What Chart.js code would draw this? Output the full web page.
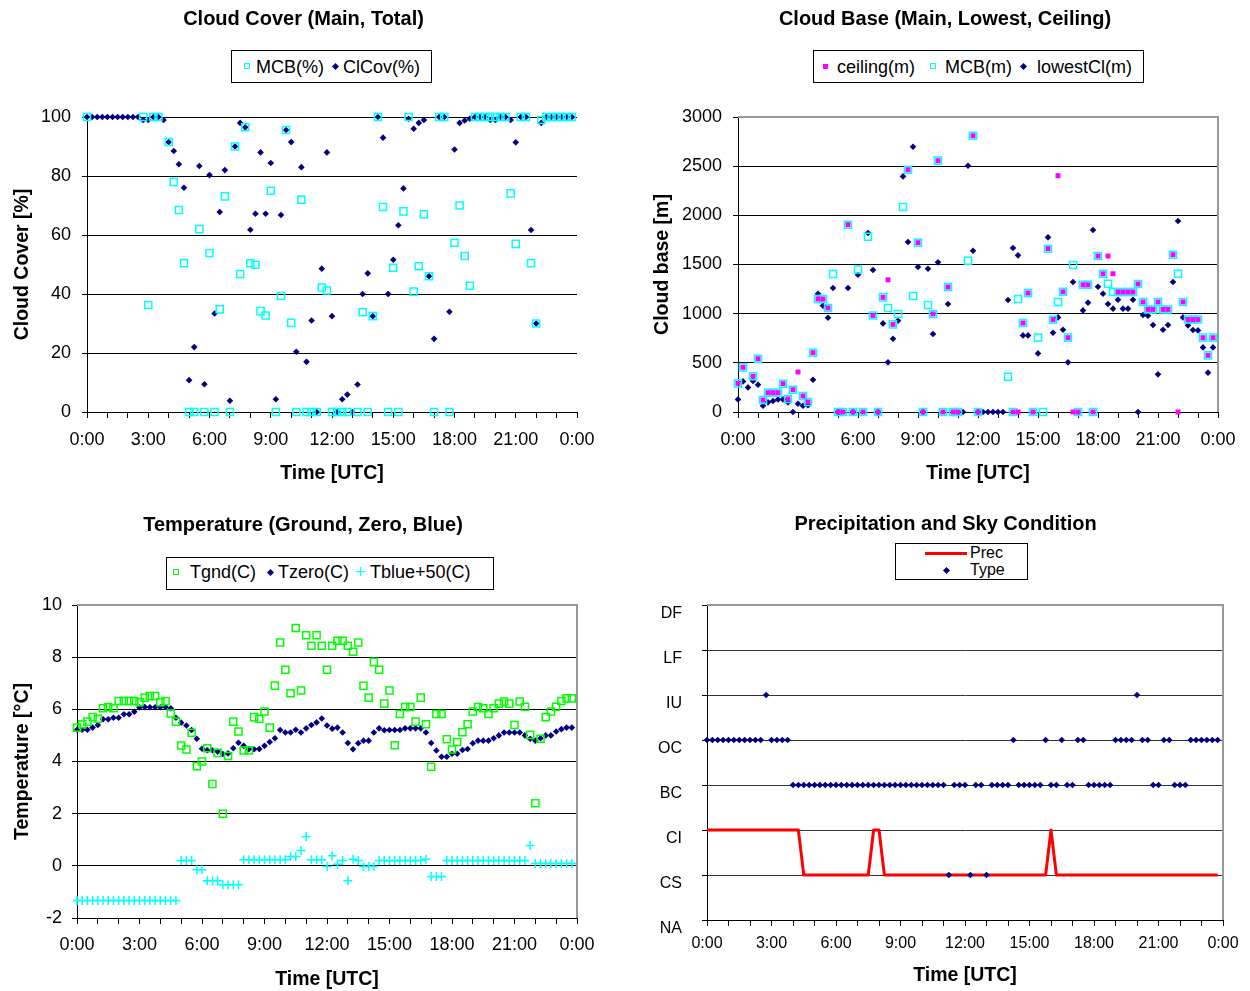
<!DOCTYPE html>
<html>
<head>
<meta charset="utf-8">
<script src="https://cdn.jsdelivr.net/npm/chart.js@4.4.0/dist/chart.umd.min.js"></script>
<style>
  body { margin: 0; background: #fff; font-family: "Liberation Sans", Arial, sans-serif; color: #000; }
  #page { position: relative; width: 1250px; height: 991px; overflow: hidden; }
  canvas { position: absolute; }
  .title { position: absolute; font-weight: bold; font-size: 20px; line-height: 24px; text-align: center; white-space: nowrap; }
  .lg { position: absolute; border: 1px solid #000; background: #fff; box-sizing: border-box; }
  .lg span { position: absolute; }
  .lt { font-size: 18px; line-height: 20px; white-space: nowrap; }
  .lt16 { font-size: 16px; line-height: 16px; white-space: nowrap; }
  .sq { width: 4px; height: 4px; border: 1.5px solid; }
  .fill { width: 5px; height: 5px; }
  .dia { width: 5px; height: 5px; background: #000080; transform: rotate(45deg); }
</style>
</head>
<body>
<div id="page">
  <canvas id="cloudCoverChart" width="625" height="495" style="left:0;top:0"></canvas>
  <canvas id="cloudBaseChart" width="625" height="495" style="left:625px;top:0"></canvas>
  <canvas id="temperatureChart" width="625" height="496" style="left:0;top:495px"></canvas>
  <canvas id="skyChart" width="625" height="496" style="left:625px;top:495px"></canvas>

  <div class="title" style="left:0;top:6px;width:607px">Cloud Cover (Main, Total)</div>
  <div class="title" style="left:625px;top:6px;width:640px">Cloud Base (Main, Lowest, Ceiling)</div>
  <div class="title" style="left:0;top:512px;width:606px">Temperature (Ground, Zero, Blue)</div>
  <div class="title" style="left:625px;top:511px;width:641px">Precipitation and Sky Condition</div>

  <div class="lg" style="left:231px;top:50px;width:201px;height:33px">
    <span class="sq" style="left:12px;top:12px;border-color:#00ffff"></span>
    <span class="lt" style="left:24px;top:6px">MCB(%)</span>
    <span class="dia" style="left:101px;top:13px"></span>
    <span class="lt" style="left:111px;top:6px">ClCov(%)</span>
  </div>

  <div class="lg" style="left:813px;top:50px;width:331px;height:33px">
    <span class="fill" style="left:8.5px;top:13px;background:#ff00ff"></span>
    <span class="lt" style="left:23px;top:6px">ceiling(m)</span>
    <span class="sq" style="left:115.5px;top:12px;border-color:#00ffff"></span>
    <span class="lt" style="left:131px;top:6px">MCB(m)</span>
    <span class="dia" style="left:207px;top:13px"></span>
    <span class="lt" style="left:223px;top:6px">lowestCl(m)</span>
  </div>

  <div class="lg" style="left:166px;top:557px;width:328px;height:33px">
    <span class="sq" style="left:6px;top:11px;border-color:#00ff00"></span>
    <span class="lt" style="left:23px;top:4px">Tgnd(C)</span>
    <span class="dia" style="left:101px;top:12px"></span>
    <span class="lt" style="left:111px;top:4px">Tzero(C)</span>
    <span class="lt" style="left:188px;top:4px;color:#00ffff">+</span>
    <span class="lt" style="left:203px;top:4px">Tblue+50(C)</span>
  </div>

  <div class="lg" style="left:895px;top:543px;width:133px;height:37px">
    <span style="left:29px;top:8px;width:42px;height:3px;background:#ff0000"></span>
    <span class="lt16" style="left:74px;top:1px">Prec</span>
    <span class="dia" style="left:47.5px;top:23.5px"></span>
    <span class="lt16" style="left:74px;top:18px">Type</span>
  </div>
</div>

<script>
// Samples are every 15 minutes (hours 0 .. 23.75)
const sampleHours = Array.from({ length: 96 }, (_, i) => i / 4);

// Cloud cover, ClCov(%), one value per sample
const cloudCoverPct = [
  100, 100, 100, 100, 100, 100, 100, 100, 100, 100, 100, 99, 99, 100, 100, 99,
  91.5, 88.5, 84, 76, 10.8, 22, 83.4, 9.4, 80.3, 33.4, 67.8, 82, 3.8, 90, 98, 96.5,
  61.8, 67.2, 88, 67.2, 84.4, 4.3, 66.8, 95.6, 91.5, 20.4, 83, 17, 31, 0, 48.6, 88,
  32.5, 0, 4.3, 5.9, 0, 9.3, 40, 47, 32.5, 100, 93, 40, 51.6, 63.3, 75.8, 99.4,
  96, 98, 99, 46, 24.8, 100, 100, 34, 89, 98, 98.8, 99.4, 100, 100, 100, 99,
  99, 100, 100, 99, 91.4, 100, 100, 61.7, 30, 98, 100, 100, 100, 100, 100, 100
];

// MCB(%) as [hour, value]
const mcbPct = [
  [0, 100], [2.75, 100], [3, 36.3], [3.25, 100], [3.5, 100], [4, 91.5], [4.25, 78], [4.5, 68.5],
  [4.75, 50.4], [5, 0], [5.25, 0], [5.5, 62], [5.75, 0], [6, 53.9], [6.25, 0], [6.5, 34.8],
  [6.75, 73.1], [7, 0], [7.25, 90], [7.5, 46.8], [7.75, 96.5], [8, 50.4], [8.25, 49.9], [8.5, 34.2],
  [8.75, 32.7], [9, 75], [9.25, 0], [9.5, 39.3], [9.75, 95.6], [10, 30.2], [10.25, 0], [10.5, 72],
  [10.75, 0], [11, 0], [11.25, 0], [11.5, 42.2], [11.75, 41.2], [12, 0], [12.25, 0], [12.5, 0],
  [12.75, 0], [13.25, 0], [13.5, 33.8], [13.75, 0], [14, 32.5], [14.25, 100], [14.5, 69.5], [14.75, 0],
  [15, 48.9], [15.25, 0], [15.5, 68], [15.75, 100], [16, 40.8], [16.25, 49.4], [16.5, 67], [16.75, 46],
  [17, 0], [17.25, 100], [17.5, 100], [17.75, 0], [18, 57.4], [18.25, 70], [18.5, 52.9], [18.75, 42.8],
  [19, 100], [19.25, 100], [19.5, 100], [19.75, 100], [20, 100], [20.25, 100], [20.5, 100], [20.75, 74.1],
  [21, 57], [21.25, 100], [21.5, 100], [21.75, 50.4], [22, 30], [22.25, 99], [22.5, 100], [22.75, 100],
  [23, 100], [23.25, 100], [23.5, 100], [23.75, 100]
];

// Cloud base series in metres, [hour, value]
const ceilingM = [
  [0, 291], [0.25, 454], [0.75, 363], [1, 542], [1.25, 122], [1.5, 196], [1.75, 196], [2, 196],
  [2.25, 288], [2.5, 133], [2.75, 227], [3, 407], [3.25, 163], [3.5, 102], [3.75, 603], [4, 1149],
  [4.25, 1149], [4.5, 1058], [5, 0], [5.25, 0], [5.5, 1905], [5.75, 0], [6.25, 0], [6.75, 982],
  [7, 0], [7.25, 1166], [7.5, 1345], [7.75, 891], [8.5, 2464], [9, 1722], [9.25, 0], [9.75, 997],
  [10, 2556], [10.25, 0], [10.5, 1271], [10.75, 0], [11, 0], [11.75, 2810], [12, 0], [13.75, 0],
  [14, 0], [14.25, 905], [14.5, 1210], [14.75, 0], [15.5, 1661], [15.75, 939], [16, 2403], [16.25, 1223],
  [16.5, 756], [16.75, 0], [17, 0], [17.25, 1294], [17.5, 1294], [17.75, 0], [18, 1586], [18.25, 1406],
  [18.5, 1586], [18.75, 1406], [19, 1220], [19.25, 1220], [19.5, 1220], [19.75, 1220], [20, 1302], [20.25, 1119],
  [20.5, 1043], [20.75, 1043], [21, 1119], [21.25, 1043], [21.5, 1043], [21.75, 1600], [22, 0], [22.25, 1119],
  [22.5, 940], [22.75, 940], [23, 940], [23.25, 756], [23.5, 576], [23.75, 756]
];
const mcbM = [
  [0, 291], [0.25, 454], [0.75, 363], [1, 542], [1.25, 122], [1.5, 196], [1.75, 196], [2, 196],
  [2.25, 288], [2.5, 133], [2.75, 227], [3.25, 163], [3.5, 102], [3.75, 603], [4, 1149], [4.25, 1149],
  [4.5, 1058], [4.75, 1403], [5, 0], [5.25, 0], [5.5, 1905], [5.75, 0], [6, 1450], [6.25, 0],
  [6.5, 1783], [6.75, 982], [7, 0], [7.25, 1166], [7.5, 1058], [7.75, 891], [8, 997], [8.25, 2085],
  [8.5, 2464], [8.75, 1180], [9, 1722], [9.25, 0], [9.5, 1088], [9.75, 997], [10, 2556], [10.25, 0],
  [10.5, 1271], [10.75, 0], [11, 0], [11.5, 1539], [11.75, 2810], [12, 0], [13.5, 359], [13.75, 0],
  [14, 1149], [14.25, 905], [14.5, 1210], [14.75, 0], [15, 756], [15.25, 0], [15.5, 1661], [15.75, 939],
  [16, 1119], [16.25, 1223], [16.5, 756], [16.75, 1495], [17, 0], [17.25, 1294], [17.5, 1294], [17.75, 0],
  [18, 1586], [18.25, 1406], [18.5, 1305], [18.75, 1220], [19, 1220], [19.25, 1220], [19.5, 1220], [19.75, 1220],
  [20, 1302], [20.25, 1119], [20.5, 1043], [20.75, 1043], [21, 1119], [21.25, 1043], [21.5, 1043], [21.75, 1600],
  [22, 1406], [22.25, 1119], [22.5, 940], [22.75, 940], [23, 940], [23.25, 756], [23.5, 576], [23.75, 756]
];
const lowestCloudM = [
  [0, 128], [0.25, 311], [0.5, 250], [0.75, 315], [1, 278], [1.25, 64], [1.5, 98], [1.75, 112],
  [2, 128], [2.25, 128], [2.5, 98], [2.75, 0], [3, 84], [3.25, 64], [3.5, 68], [3.75, 328],
  [4, 1203], [4.25, 1081], [4.5, 959], [4.75, 1261], [5, 0], [5.5, 1261], [5.75, 0], [6, 1396],
  [6.5, 1820], [6.75, 1444], [7, 0], [7.25, 901], [7.5, 505], [7.75, 745], [8, 928], [8.25, 2396],
  [8.5, 1729], [8.75, 2698], [9, 1475], [9.25, 0], [9.5, 1457], [9.75, 793], [10, 1522], [10.5, 1098],
  [11.25, 0], [11.5, 2505], [11.75, 1640], [12, 0], [12.25, 0], [12.5, 0], [12.75, 0], [13, 0],
  [13.25, 0], [13.5, 1139], [13.75, 1668], [14, 1593], [14.25, 779], [14.5, 779], [15, 596], [15.5, 1776],
  [15.75, 806], [16, 962], [16.25, 837], [16.5, 505], [16.75, 1322], [17.25, 1033], [17.5, 1112], [17.75, 1851],
  [18, 1274], [18.25, 1203], [18.5, 1098], [18.75, 1051], [19, 1142], [19.25, 1051], [19.5, 1051], [19.75, 1142],
  [20, 0], [20.25, 986], [20.5, 979], [20.75, 885], [21, 383], [21.25, 837], [21.5, 885], [21.75, 1322],
  [22, 1942], [22.25, 962], [22.5, 881], [22.75, 834], [23, 830], [23.25, 657], [23.5, 400], [23.75, 657]
];

// Temperatures (C), one value per sample
const groundTemp = [
  5.3, 5.43, 5.53, 5.7, 5.64, 6.04, 6.09, 6.04, 6.32, 6.32, 6.32, 6.32, 6.27, 6.45, 6.51, 6.51,
  6.27, 6.32, 5.84, 5.53, 4.61, 4.46, 5.1, 3.82, 4.0, 4.51, 3.14, 4.33, 2.0, 4.21, 5.53, 5.15,
  4.42, 4.42, 5.7, 5.64, 5.92, 5.3, 6.91, 8.56, 7.52, 6.62, 9.12, 6.72, 8.84, 8.44, 8.84, 8.44,
  7.52, 8.44, 8.63, 8.63, 8.44, 8.21, 8.56, 6.9, 6.45, 7.82, 7.52, 6.22, 6.72, 4.62, 5.82, 6.09,
  6.09, 5.53, 6.45, 5.43, 3.8, 5.82, 5.82, 4.85, 4.46, 4.75, 5.12, 5.43, 5.92, 6.09, 6.04, 5.82,
  6.04, 6.22, 6.3, 6.22, 5.4, 6.3, 6.1, 5.02, 2.4, 4.87, 5.7, 5.92, 6.1, 6.32, 6.42, 6.42
];
const zeroTemp = [
  5.22, 5.22, 5.22, 5.3, 5.4, 5.62, 5.62, 5.68, 5.68, 5.81, 5.81, 5.91, 6.07, 6.09, 6.08, 6.08,
  6.08, 6.09, 6.04, 5.68, 5.49, 5.38, 5.21, 4.87, 4.49, 4.43, 4.43, 4.38, 4.29, 4.31, 4.51, 4.72,
  4.6, 4.47, 4.47, 4.48, 4.6, 4.75, 4.89, 5.21, 5.11, 5.11, 5.22, 5.11, 5.27, 5.4, 5.5, 5.65,
  5.38, 5.26, 5.3, 5.11, 4.71, 4.47, 4.7, 4.8, 4.8, 5.11, 5.27, 5.2, 5.21, 5.21, 5.21, 5.27,
  5.27, 5.27, 5.27, 5.11, 4.71, 4.42, 4.18, 4.18, 4.3, 4.3, 4.44, 4.48, 4.7, 4.8, 4.8, 4.8,
  4.89, 5.0, 5.11, 5.11, 5.11, 5.11, 5.0, 4.87, 4.8, 4.89, 5.0, 5.0, 5.15, 5.24, 5.3, 5.3
];
const bluePlus50Temp = [
  -1.33, -1.33, -1.33, -1.33, -1.33, -1.33, -1.33, -1.33, -1.33, -1.33, -1.33, -1.33, -1.33, -1.33, -1.33, -1.33,
  -1.33, -1.33, -1.33, -1.33, 0.2, 0.2, 0.2, -0.15, -0.15, -0.57, -0.57, -0.57, -0.73, -0.73, -0.73, -0.73,
  0.23, 0.23, 0.23, 0.23, 0.23, 0.23, 0.23, 0.23, 0.23, 0.36, 0.36, 0.59, 1.12, 0.23, 0.23, 0.23,
  -0.03, 0.39, 0.06, 0.2, -0.57, 0.25, 0.2, -0.03, -0.03, -0.03, 0.2, 0.2, 0.2, 0.2, 0.2, 0.2,
  0.2, 0.2, 0.2, 0.25, -0.41, -0.41, -0.41, 0.2, 0.2, 0.2, 0.2, 0.2, 0.2, 0.2, 0.2, 0.2,
  0.2, 0.2, 0.2, 0.2, 0.2, 0.2, 0.2, 0.78, 0.09, 0.09, 0.09, 0.09, 0.09, 0.09, 0.09, 0.09
];

// Sky condition classes, index = value on the axis
const skyClasses = ['NA', 'CS', 'CI', 'BC', 'OC', 'IU', 'LF', 'DF'];
const precClass = [
  2, 2, 2, 2, 2, 2, 2, 2, 2, 2, 2, 2, 2, 2, 2, 2,
  2, 2, 1, 1, 1, 1, 1, 1, 1, 1, 1, 1, 1, 1, 1, 2,
  2, 1, 1, 1, 1, 1, 1, 1, 1, 1, 1, 1, 1, 1, 1, 1,
  1, 1, 1, 1, 1, 1, 1, 1, 1, 1, 1, 1, 1, 1, 1, 1,
  2, 1, 1, 1, 1, 1, 1, 1, 1, 1, 1, 1, 1, 1, 1, 1,
  1, 1, 1, 1, 1, 1, 1, 1, 1, 1, 1, 1, 1, 1, 1, 1
];
const skyType = [
  4, 4, 4, 4, 4, 4, 4, 4, 4, 4, 4, 5, 4, 4, 4, 4,
  3, 3, 3, 3, 3, 3, 3, 3, 3, 3, 3, 3, 3, 3, 3, 3,
  3, 3, 3, 3, 3, 3, 3, 3, 3, 3, 3, 3, 3, 1, 3, 3,
  3, 1, 3, 3, 1, 3, 3, 3, 3, 4, 3, 3, 3, 3, 3, 4,
  3, 3, 4, 3, 3, 4, 4, 3, 3, 3, 3, 3, 4, 4, 4, 4,
  5, 4, 4, 3, 3, 4, 4, 3, 3, 3, 4, 4, 4, 4, 4, 4
];

const FONT = '"Liberation Sans", Arial, sans-serif';
const NAVY = '#000080', CYAN = '#00ffff', MAGENTA = '#ff00ff', GREEN = '#00ff00', RED = '#ff0000';
const NONE = 'rgba(0,0,0,0)';

Chart.defaults.font.family = FONT;
Chart.defaults.color = '#000';

const onSamples = values => values.map((v, i) => ({ x: sampleHours[i], y: v }));
const fromPairs = pairs => pairs.map(([x, y]) => ({ x, y }));

// gray plot frame on top and right, like the spreadsheet plot area border
const framePlugin = {
  id: 'frame',
  beforeDatasetsDraw(chart, args, opts) {
    if (!opts.color) return;
    const { left, top, right, bottom } = chart.chartArea;
    const ctx = chart.ctx;
    ctx.save();
    ctx.strokeStyle = opts.color;
    ctx.lineWidth = opts.width || 2;
    ctx.beginPath();
    ctx.moveTo(left, top);
    ctx.lineTo(right, top);
    ctx.lineTo(right, bottom);
    ctx.stroke();
    ctx.restore();
  }
};

function timeAxis(o) {
  return {
    type: 'linear', min: 0, max: 24,
    afterFit(scale) { scale.height = o.height; },
    border: { color: '#000', width: 1 },
    grid: { drawOnChartArea: false, tickLength: 6, tickColor: '#000' },
    ticks: {
      stepSize: 1, autoSkip: false, maxRotation: 0, padding: o.labelPad,
      font: { size: o.fontSize },
      callback: v => (v % 3 === 0 ? (v % 24) + ':00' : '')
    },
    title: {
      display: true, text: 'Time [UTC]', font: { size: 19.5, weight: 'bold' },
      padding: { top: 0, bottom: o.titlePad }
    }
  };
}

function valueAxis(o) {
  return {
    type: 'linear', min: o.min, max: o.max,
    afterFit(scale) { scale.width = o.width; },
    border: { color: '#000', width: 1 },
    grid: { color: o.gridColor || '#000', tickLength: 5, tickColor: '#000' },
    ticks: {
      stepSize: o.step, padding: o.labelPad, labelOffset: o.labelOffset || 0,
      font: { size: o.fontSize }, callback: o.label || (v => String(v))
    },
    title: o.title
      ? { display: true, text: o.title, font: { size: 19.5, weight: 'bold' }, padding: { top: o.titlePad, bottom: 0 } }
      : { display: false }
  };
}

function panel(id, o) {
  return new Chart(document.getElementById(id), {
    type: 'scatter',
    data: { datasets: o.datasets },
    options: {
      responsive: false,
      animation: false,
      devicePixelRatio: 1,
      layout: { padding: o.padding },
      plugins: {
        legend: { display: false },
        tooltip: { enabled: false },
        frame: { color: o.frame }
      },
      scales: { x: timeAxis(o.x), y: valueAxis(o.y) }
    },
    plugins: [framePlugin]
  });
}

const diamond = (label, data) => ({
  label, data, clip: false, pointStyle: 'rectRot', pointRadius: 3.3,
  pointBackgroundColor: NAVY, pointBorderColor: NAVY, pointBorderWidth: 0
});
const hollowSquare = (label, data, color) => ({
  label, data, clip: false, pointStyle: 'rect', pointRadius: 5,
  pointBackgroundColor: NONE, pointBorderColor: color, pointBorderWidth: 1.5
});

// Cloud cover
panel('cloudCoverChart', {
  padding: { left: 7, top: 117, right: 48, bottom: 8 },
  x: { height: 75, labelPad: 11, titlePad: 1.5, fontSize: 18 },
  y: { min: 0, max: 100, step: 20, width: 80, labelPad: 11, fontSize: 18, title: 'Cloud Cover [%]', titlePad: 3.5 },
  datasets: [
    hollowSquare('MCB(%)', fromPairs(mcbPct), CYAN),
    diamond('ClCov(%)', onSamples(cloudCoverPct))
  ]
});

// Cloud base
panel('cloudBaseChart', {
  padding: { left: 22, top: 117, right: 32, bottom: 8 },
  frame: '#999',
  x: { height: 75, labelPad: 11, titlePad: 1.5, fontSize: 18 },
  y: { min: 0, max: 3000, step: 500, width: 91, labelPad: 11, fontSize: 18, title: 'Cloud base [m]', titlePad: 3.5 },
  datasets: [
    {
      label: 'ceiling(m)', data: fromPairs(ceilingM), clip: false, pointStyle: 'rect', pointRadius: 3.5,
      pointBackgroundColor: MAGENTA, pointBorderColor: MAGENTA, pointBorderWidth: 0
    },
    hollowSquare('MCB(m)', fromPairs(mcbM), CYAN),
    diamond('lowestCl(m)', fromPairs(lowestCloudM))
  ]
});

// Temperature
panel('temperatureChart', {
  padding: { left: 7, top: 110, right: 48, bottom: 0 },
  frame: '#999',
  x: { height: 73, labelPad: 10, titlePad: 0, fontSize: 18 },
  y: { min: -2, max: 10, step: 2, width: 70, labelPad: 10, fontSize: 18, title: 'Temperature [°C]', titlePad: 3.5 },
  datasets: [
    hollowSquare('Tgnd(C)', onSamples(groundTemp), GREEN),
    diamond('Tzero(C)', onSamples(zeroTemp)),
    {
      label: 'Tblue+50(C)', data: onSamples(bluePlus50Temp), clip: false, pointStyle: 'cross', pointRadius: 4.5,
      pointBackgroundColor: CYAN, pointBorderColor: CYAN, pointBorderWidth: 1.5
    }
  ]
});

// Precipitation and sky condition
panel('skyChart', {
  padding: { left: 10, top: 110, right: 27, bottom: 0 },
  frame: '#999',
  x: { height: 71, labelPad: 8, titlePad: 3.5, fontSize: 16 },
  y: {
    min: 0, max: 7, step: 1, width: 72, labelPad: 20, labelOffset: 9, fontSize: 16,
    gridColor: '#333', label: v => skyClasses[v]
  },
  datasets: [
    {
      label: 'Prec', data: onSamples(precClass), showLine: true, order: 1, clip: false,
      borderColor: RED, borderWidth: 3, borderJoinStyle: 'round', pointRadius: 0, tension: 0
    },
    Object.assign(diamond('Type', onSamples(skyType)), { order: 0 })
  ]
});
</script>
</body>
</html>
